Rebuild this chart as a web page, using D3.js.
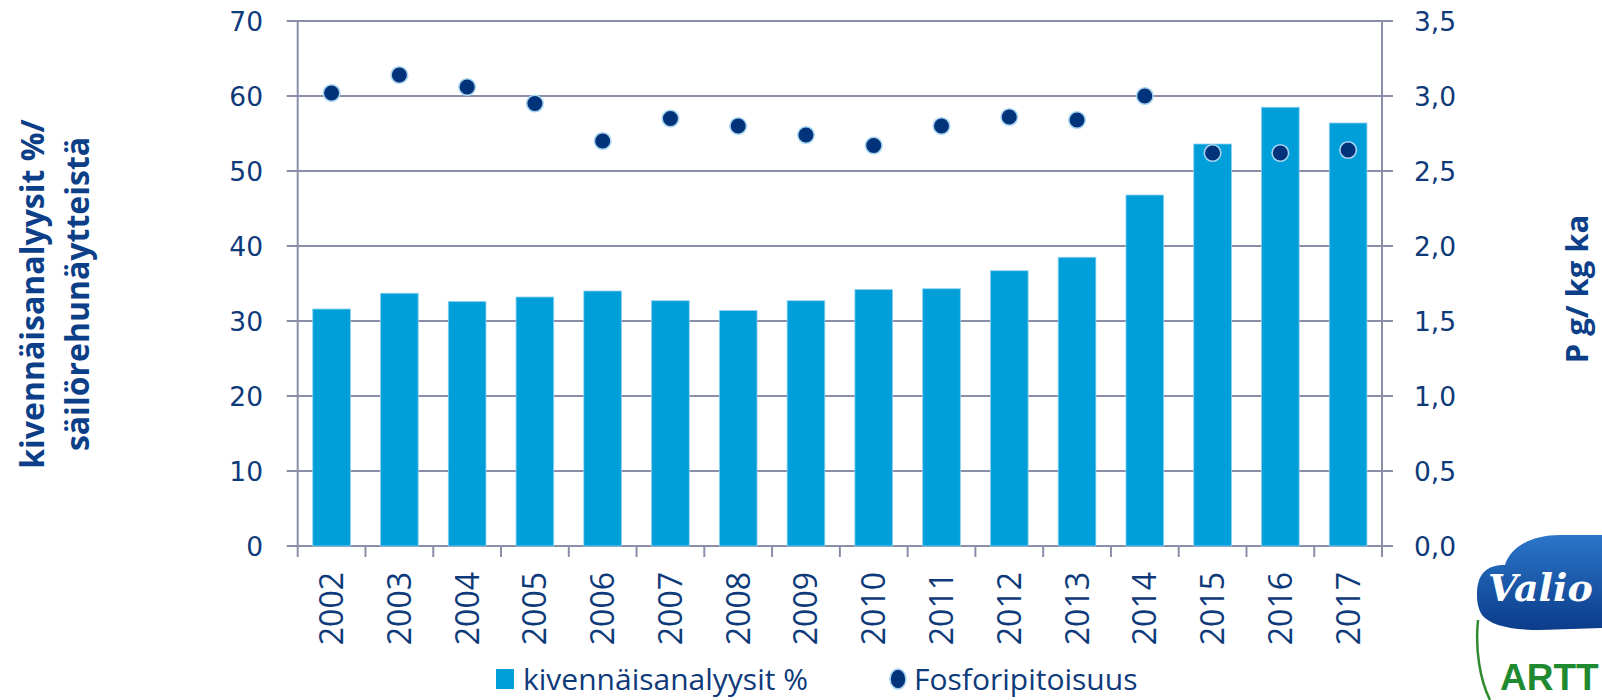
<!DOCTYPE html>
<html>
<head>
<meta charset="utf-8">
<script src="https://cdn.jsdelivr.net/npm/d3@7"></script>
<style>
  body { margin: 0; background: #fff; }
  svg { display: block; }
</style>
</head>
<body>
<div id="chart"></div>
<script>
// Chart data
const years = ['2002', '2003', '2004', '2005', '2006', '2007', '2008', '2009',
  '2010', '2011', '2012', '2013', '2014', '2015', '2016', '2017'];
// kivennäisanalyysit % (left axis, bars)
const mineralPct = [31.6, 33.7, 32.6, 33.2, 34.0, 32.7, 31.4, 32.7,
  34.2, 34.3, 36.7, 38.5, 46.8, 53.6, 58.5, 56.4];
// Fosforipitoisuus P g/kg ka (right axis, dots)
const phosphorus = [3.02, 3.14, 3.06, 2.95, 2.70, 2.85, 2.80, 2.74,
  2.67, 2.80, 2.86, 2.84, 3.00, 2.62, 2.62, 2.64];
const leftTicks = [0, 10, 20, 30, 40, 50, 60, 70];
const rightTicks = [0, 0.5, 1, 1.5, 2, 2.5, 3, 3.5];
const legendLabels = ['kivennäisanalyysit %', 'Fosforipitoisuus'];

const W = 1602, H = 700;
const PLOT = { LEFT: 297.7, RIGHT: 1382, TOP: 21, BOTTOM: 546 };
const TICK = 11;

const BAR_COLOR = '#009fda';
const DOT_COLOR = '#00337a';
const GRID_COLOR = '#8a8ea8';
const TEXT_COLOR = '#0e3a7a';
const TITLE_COLOR = '#0d3f88';
const NUM_FONT = "'DejaVu Sans', Verdana, sans-serif";
const TXT_FONT = "'Open Sans', 'Noto Sans', sans-serif";

const svg = d3.select('#chart').append('svg')
  .attr('width', W)
  .attr('height', H);

// Scales
const x = d3.scaleBand()
  .domain(years)
  .range([PLOT.LEFT, PLOT.RIGHT])
  .paddingInner(0.444)
  .paddingOuter(0.222);
const step = x.step();

const yL = d3.scaleLinear().domain([0, 70]).range([PLOT.BOTTOM, PLOT.TOP]);
const yR = d3.scaleLinear().domain([0, 3.5]).range([PLOT.BOTTOM, PLOT.TOP]);

// Horizontal gridlines (with tick stubs on both sides)
svg.append('g')
  .selectAll('line')
  .data(leftTicks)
  .join('line')
  .attr('x1', PLOT.LEFT - TICK)
  .attr('x2', PLOT.RIGHT + TICK)
  .attr('y1', d => yL(d))
  .attr('y2', d => yL(d))
  .attr('stroke', GRID_COLOR)
  .attr('stroke-width', 2);

// Vertical axis lines
svg.append('g')
  .selectAll('line')
  .data([PLOT.LEFT, PLOT.RIGHT])
  .join('line')
  .attr('x1', d => d)
  .attr('x2', d => d)
  .attr('y1', PLOT.TOP)
  .attr('y2', PLOT.BOTTOM + TICK)
  .attr('stroke', GRID_COLOR)
  .attr('stroke-width', 2);

// Category boundary ticks below the x axis
svg.append('g')
  .selectAll('line')
  .data(years.slice(1))
  .join('line')
  .attr('x1', d => x(d) - (step - x.bandwidth()) / 2)
  .attr('x2', d => x(d) - (step - x.bandwidth()) / 2)
  .attr('y1', PLOT.BOTTOM)
  .attr('y2', PLOT.BOTTOM + TICK)
  .attr('stroke', GRID_COLOR)
  .attr('stroke-width', 2);

// Bars
svg.append('g')
  .selectAll('rect')
  .data(years)
  .join('rect')
  .attr('x', d => x(d))
  .attr('width', x.bandwidth())
  .attr('y', (d, i) => yL(mineralPct[i]))
  .attr('height', (d, i) => yL(0) - yL(mineralPct[i]))
  .attr('fill', BAR_COLOR)
  .attr('stroke', '#8dd2f0')
  .attr('stroke-width', 0.8);

// Dots
svg.append('g')
  .selectAll('circle')
  .data(years)
  .join('circle')
  .attr('cx', d => x(d) + x.bandwidth() / 2)
  .attr('cy', (d, i) => yR(phosphorus[i]))
  .attr('r', 8.3)
  .attr('fill', DOT_COLOR)
  .attr('stroke', '#a9d4f0')
  .attr('stroke-width', 1.6);

// Left tick labels
svg.append('g')
  .selectAll('text')
  .data(leftTicks)
  .join('text')
  .attr('x', 263)
  .attr('y', d => yL(d))
  .attr('dy', '0.36em')
  .attr('text-anchor', 'end')
  .style('font-family', NUM_FONT)
  .style('font-size', '26.5px')
  .attr('fill', TEXT_COLOR)
  .text(d => d);

// Right tick labels (Finnish decimal comma)
const fmtR = d => d3.format('.1f')(d).replace('.', ',');
svg.append('g')
  .selectAll('text')
  .data(rightTicks)
  .join('text')
  .attr('x', 1414)
  .attr('y', d => yR(d))
  .attr('dy', '0.36em')
  .attr('text-anchor', 'start')
  .style('font-family', NUM_FONT)
  .style('font-size', '26.5px')
  .attr('fill', TEXT_COLOR)
  .text(fmtR);

// Rotated year labels
svg.append('g')
  .selectAll('text')
  .data(years)
  .join('text')
  .attr('transform', d => `translate(${x(d) + x.bandwidth() / 2 + 11.5}, ${PLOT.BOTTOM + 26}) rotate(-90)`)
  .attr('text-anchor', 'end')
  .style('font-family', TXT_FONT)
  .style('font-size', '32px')
  .attr('fill', TEXT_COLOR)
  .text(d => d);

// Left axis title (two lines)
const leftTitle = svg.append('text')
  .attr('transform', 'translate(44, 294) rotate(-90)')
  .attr('text-anchor', 'middle')
  .style('font-family', TXT_FONT)
  .style('font-size', '32px')
  .style('font-weight', 'bold')
  .attr('fill', TITLE_COLOR);
leftTitle.append('tspan').attr('x', 0).attr('y', 0).text('kivennäisanalyysit %/');
leftTitle.append('tspan').attr('x', 0).attr('y', 45).text('säilörehunäytteistä');

// Right axis title
svg.append('text')
  .attr('transform', 'translate(1588, 289) rotate(-90)')
  .attr('text-anchor', 'middle')
  .style('font-family', TXT_FONT)
  .style('font-size', '31px')
  .style('font-weight', 'bold')
  .attr('fill', TITLE_COLOR)
  .text('P g/ kg ka');

// Legend
const legend = svg.append('g').attr('transform', 'translate(0, 679)');
legend.append('rect')
  .attr('x', 496).attr('y', -10)
  .attr('width', 18).attr('height', 20)
  .attr('fill', BAR_COLOR);
legend.append('text')
  .attr('x', 523).attr('y', 0).attr('dy', '0.36em')
  .style('font-family', TXT_FONT)
  .style('font-size', '30px')
  .attr('fill', TEXT_COLOR)
  .text(legendLabels[0]);
legend.append('ellipse')
  .attr('cx', 898).attr('cy', 0)
  .attr('rx', 8).attr('ry', 10)
  .attr('fill', DOT_COLOR)
  .attr('stroke', '#a9d4f0')
  .attr('stroke-width', 1.6);
legend.append('text')
  .attr('x', 914).attr('y', 0).attr('dy', '0.36em')
  .style('font-family', TXT_FONT)
  .style('font-size', '30px')
  .attr('fill', TEXT_COLOR)
  .text(legendLabels[1]);

// Logo in the bottom right corner
const defs = svg.append('defs');
const grad = defs.append('linearGradient')
  .attr('id', 'logoGrad')
  .attr('x1', 0).attr('y1', 0).attr('x2', 0).attr('y2', 1);
grad.append('stop').attr('offset', '0%').attr('stop-color', '#2b76c9');
grad.append('stop').attr('offset', '100%').attr('stop-color', '#0b3c8a');

const logo = svg.append('g');
logo.append('path')
  .attr('d', 'M1477,595 C1477,572 1488,565 1505,565 C1510,548 1530,535 1560,535 L1602,535 L1602,628 L1540,630 C1510,630 1490,625 1482,615 C1478,608 1477,602 1477,595 Z')
  .attr('fill', 'url(#logoGrad)');
logo.append('text')
  .attr('x', 1488).attr('y', 601)
  .style('font-family', "'DejaVu Serif', serif")
  .style('font-size', '38px')
  .style('font-weight', 'bold')
  .style('font-style', 'italic')
  .attr('fill', '#fff')
  .text('Valio');
logo.append('path')
  .attr('d', 'M1478,620 C1475,650 1480,680 1490,700')
  .attr('fill', 'none')
  .attr('stroke', '#2e8b2e')
  .attr('stroke-width', 2.5);
logo.append('text')
  .attr('x', 1500).attr('y', 690)
  .style('font-family', "'Liberation Sans', Arial, sans-serif")
  .style('font-size', '37px')
  .style('font-weight', 'bold')
  .attr('fill', '#1f8a2f')
  .text('ARTT');
</script>
</body>
</html>
